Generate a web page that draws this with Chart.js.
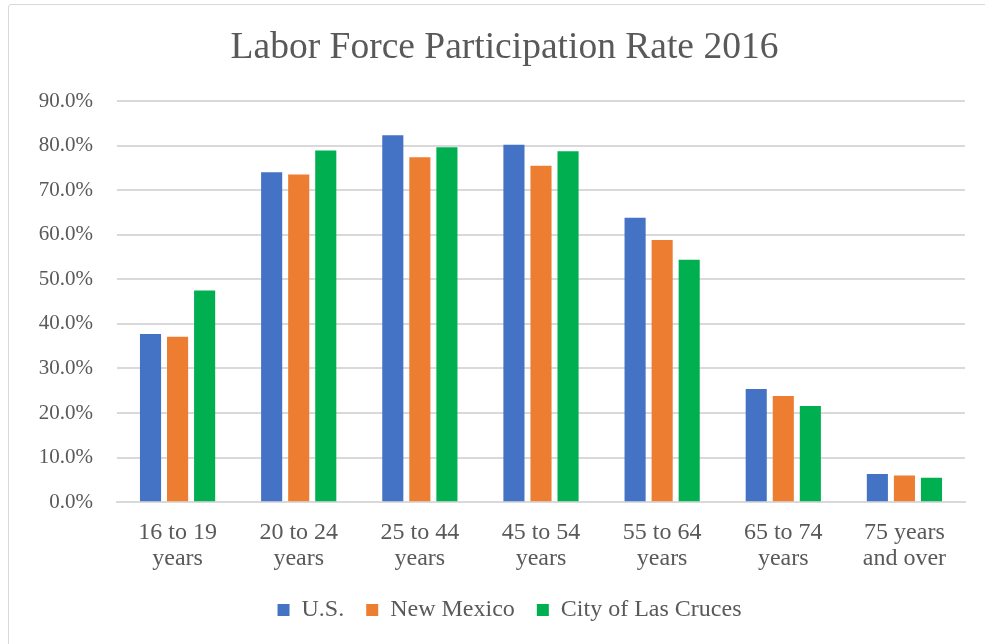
<!DOCTYPE html>
<html>
<head>
<meta charset="utf-8">
<script src="https://cdn.jsdelivr.net/npm/chart.js@4"></script>
<style>
  html, body { margin: 0; padding: 0; background: #fff; }
  #wrap { position: absolute; left: 8px; top: 4px; width: 990px; height: 660px; border: 1px solid #d9d9d9; border-radius: 3px; }
  #box { position: absolute; left: 0; top: 0; width: 985px; height: 644px; }
</style>
</head>
<body>
<div id="wrap"></div>
<div id="box"><canvas id="laborChart"></canvas></div>
<script>
const categories = [
  ['16 to 19', 'years'], ['20 to 24', 'years'], ['25 to 44', 'years'],
  ['45 to 54', 'years'], ['55 to 64', 'years'], ['65 to 74', 'years'],
  ['75 years', 'and over']
];
const usValues = [37.7, 74.0, 82.3, 80.2, 63.8, 25.4, 6.3];
const nmValues = [37.1, 73.5, 77.4, 75.5, 58.8, 23.8, 6.0];
const lcValues = [47.5, 78.9, 79.6, 78.7, 54.4, 21.6, 5.5];

const textColor = '#595959';
const fontFamily = '"Liberation Serif", "Times New Roman", serif';

// title and legend sit a little right of centre in the original
const nudgeBoxes = {
  id: 'nudgeBoxes',
  afterLayout(chart) {
    chart.titleBlock.left += 17;
    chart.titleBlock.right += 17;
    chart.legend.left += 22;
    chart.legend.right += 22;
  }
};

const ctx = document.getElementById('laborChart').getContext('2d');

new Chart(ctx, {
  type: 'bar',
  data: {
    labels: categories,
    datasets: [
      { label: 'U.S.', data: usValues, backgroundColor: '#4472c4' },
      { label: 'New Mexico', data: nmValues, backgroundColor: '#ed7d31' },
      { label: 'City of Las Cruces', data: lcValues, backgroundColor: '#00b050' }
    ]
  },
  options: {
    responsive: true,
    maintainAspectRatio: false,
    animation: false,
    categoryPercentage: 0.67,
    barPercentage: 0.78,
    layout: { padding: { left: 10, right: 20, top: 26, bottom: 12 } },
    plugins: {
      title: {
        display: true,
        text: 'Labor Force Participation Rate 2016',
        color: textColor,
        font: { family: fontFamily, size: 37.5, weight: 'normal' },
        padding: { top: 0, bottom: 30 }
      },
      legend: {
        position: 'bottom',
        labels: {
          color: textColor,
          font: { family: fontFamily, size: 24 },
          boxWidth: 12,
          boxHeight: 12,
          padding: 22
        }
      },
      tooltip: { enabled: false }
    },
    scales: {
      x: {
        grid: { display: false, drawTicks: false },
        border: { color: '#d9d9d9', width: 2 },
        ticks: {
          color: textColor,
          font: { family: fontFamily, size: 24, lineHeight: 1.08 },
          padding: 18,
          maxRotation: 0
        },
        afterFit: scale => { scale.height -= 14; }
      },
      y: {
        min: 0,
        max: 90,
        grid: { color: '#d9d9d9', lineWidth: 2, drawTicks: false },
        border: { display: false },
        ticks: {
          stepSize: 10,
          color: textColor,
          font: { family: fontFamily, size: 21 },
          padding: 24,
          callback: v => v.toFixed(1) + '%'
        },
        afterFit: scale => { scale.width = 107; }
      }
    }
  },
  plugins: [nudgeBoxes]
});
</script>
</body>
</html>
